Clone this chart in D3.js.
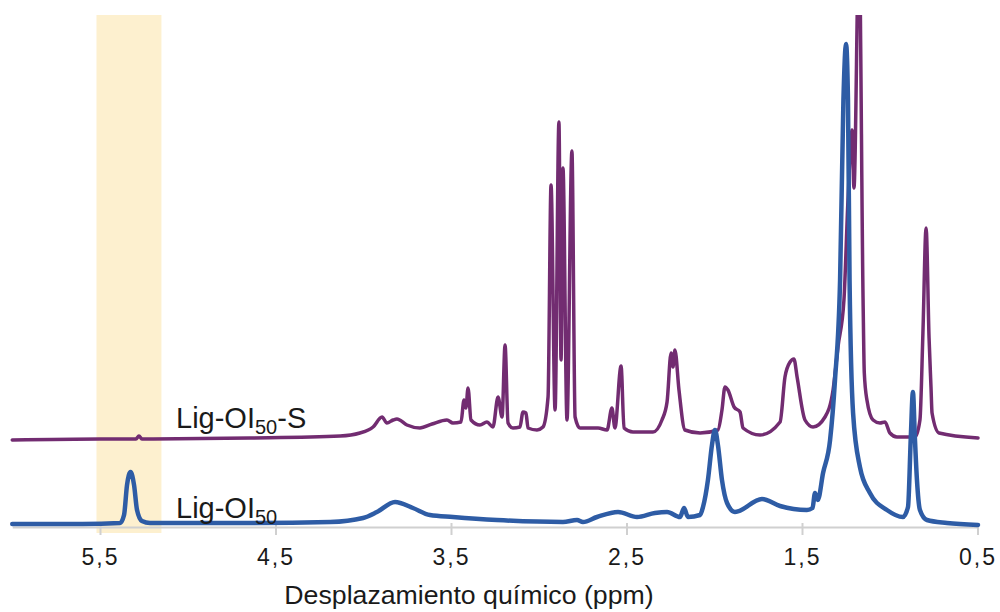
<html>
<head>
	<meta http-equiv="Content-Type" content="text/html; charset=utf-8" />
	<script src="https://cdn.jsdelivr.net/npm/d3@7/dist/d3.min.js" charset="utf-8"></script>
	<style type="text/css">
	body {
	  background-color: #fff;
	  margin: 0;
	}
	.axis path, .axis line {
	    stroke: #d0d0d0;
	    stroke-width: 2px;
	}
	.axis text {
	    font-family: "Liberation Sans", Arial, sans-serif;
	    font-size: 23px;
	    letter-spacing: 2px;
	    fill: #1a1a1a;
	}
	.lbl {
	    font-family: "Liberation Sans", Arial, sans-serif;
	    fill: #1a1a1a;
	}
	</style>
</head>
<body>

	<svg width="1000" height="612" version="1.1" xmlns="http://www.w3.org/2000/svg"></svg>

	<script type="text/javascript">
		// Lig-OI50 (azul)
		var v_PpmA = [6.00, 5.60, 5.386, 5.363, 5.346, 5.326, 5.306, 5.289, 5.261, 5.215, 4.645, 4.189, 4.001, 3.922,
		              3.819, 3.717, 3.620, 3.489, 3.238, 2.862, 2.782, 2.748, 2.668, 2.548, 2.440, 2.338, 2.269, 2.195,
		              2.172, 2.150, 2.081, 2.064, 2.036, 2.013, 1.996, 1.979, 1.956, 1.927, 1.882, 1.728, 1.625, 1.472,
		              1.440, 1.426, 1.410, 1.380, 1.340, 1.312, 1.283, 1.264, 1.249, 1.238, 1.229, 1.209, 1.170, 1.113,
		              1.016, 0.925, 0.896, 0.880, 0.868, 0.857, 0.845, 0.828, 0.788, 0.674, 0.497];
		var v_IntA = [3, 3, 4, 12, 42, 55, 42, 17, 6, 4, 4, 5, 9, 15,
		              25, 19, 12, 10, 7, 5, 7, 5, 10, 15, 10, 14, 15, 10,
		              19, 10, 12, 20, 47, 82, 97, 82, 47, 24, 15, 28, 21, 17,
		              19, 34, 27, 54, 87, 147, 247, 427, 483, 427, 247, 114, 60, 34,
		              17, 10, 20, 90, 135, 90, 47, 17, 7, 4, 2];

		// Lig-OI50-S (morado)
		var v_PpmB = [6.00, 5.50, 5.295, 5.278, 5.261, 4.645, 4.132, 4.019, 3.944, 3.893, 3.865, 3.830, 3.808, 3.751,
		              3.677, 3.608, 3.523, 3.489, 3.443, 3.426, 3.415, 3.403, 3.386, 3.335, 3.295, 3.261, 3.232, 3.209,
		              3.192, 3.175, 3.147, 3.107, 3.090, 3.073, 3.061, 3.010, 2.976, 2.947, 2.930, 2.907, 2.885, 2.873,
		              2.862, 2.839, 2.811, 2.793, 2.765, 2.662, 2.611, 2.583, 2.566, 2.531, 2.514, 2.463, 2.349, 2.298,
		              2.269, 2.246, 2.235, 2.224, 2.201, 2.167, 2.081, 1.979, 1.956, 1.939, 1.922, 1.887, 1.853, 1.836, 1.739,
		              1.625, 1.597, 1.568, 1.546, 1.528, 1.483, 1.437, 1.369, 1.323, 1.295, 1.261, 1.238, 1.215, 1.204,
		              1.175, 1.152, 1.145, 1.130, 1.095, 1.056, 1.027, 0.999, 0.959, 0.856, 0.828, 0.811, 0.793, 0.776,
		              0.765, 0.759, 0.719, 0.497];
		var v_IntB = [87, 88, 88, 91, 88, 89, 91, 94, 100, 110, 104, 107, 108, 102,
		              99, 103, 107, 104, 105, 127, 119, 139, 107, 102, 105, 100, 130, 110,
		              182, 104, 99, 100, 115, 114, 99, 97, 100, 130, 342, 117, 405, 167,
		              359, 107, 376, 110, 99, 99, 97, 119, 99, 161, 99, 95, 95, 107,
		              125, 174, 160, 177, 137, 97, 94, 97, 117, 140, 137, 120, 115, 99, 92,
		              105, 150, 165, 168, 150, 107, 100, 110, 137, 180, 227, 327, 397, 339,
		              587, 227, 154, 127, 107, 104, 105, 94, 90, 90, 107, 194, 299, 189,
		              140, 114, 94, 89];

		var v_TickValues = [5.5, 4.5, 3.5, 2.5, 1.5, 0.5];
		var v_Band       = [5.52, 5.15];

		var v_SVG    = d3.select("svg");
		var v_xScale = d3.scaleLinear().domain([6.0, 0.5]).range([12.25, 977.5]);
		var v_yScale = d3.scaleLinear().domain([0, 512]).range([527, 15]);

		// zona resaltada
		v_SVG.append("rect")
		     .attr("x", v_xScale(v_Band[0]))
		     .attr("y", v_yScale(512))
		     .attr("width", v_xScale(v_Band[1]) - v_xScale(v_Band[0]))
		     .attr("height", v_yScale(-6) - v_yScale(512))
		     .attr("fill", "#fdf0cf");

		// eje x
		v_SVG.append("g")
		     .attr("class", "axis")
		     .attr("transform", "translate(0," + v_yScale(0) + ")")
		     .call(d3.axisBottom(v_xScale)
		             .tickValues(v_TickValues)
		             .tickSize(8)
		             .tickSizeOuter(0)
		             .tickPadding(14)
		             .tickFormat(function(d) { return d3.format(".1f")(d).replace(".", ","); }))
		     .call(function(g) { g.selectAll(".tick line").attr("y1", -4); });

		v_SVG.append("clipPath").attr("id", "clip")
		     .append("rect").attr("x", 0).attr("y", 15).attr("width", 1000).attr("height", 530);

		function f_Line(i_Ppm, i_Int, i_Color, i_Width)
		{
			var v_Line = d3.line()
			               .x(function(d, i) { return v_xScale(i_Ppm[i]); })
			               .y(function(d, i) { return v_yScale(i_Int[i]); })
			               .curve(d3.curveMonotoneX);
			v_SVG.append("path")
			     .attr("clip-path", "url(#clip)")
			     .attr("d", v_Line(i_Int))
			     .attr("fill", "none")
			     .attr("stroke", i_Color)
			     .attr("stroke-width", i_Width)
			     .attr("stroke-linejoin", "round")
			     .attr("stroke-linecap", "round");
		}

		f_Line(v_PpmB, v_IntB, "#722c71", 3.5);
		f_Line(v_PpmA, v_IntA, "#2e5ca5", 4.5);

		// etiquetas de las series
		var v_T1 = v_SVG.append("text").attr("class", "lbl").attr("x", 176).attr("y", 428).attr("font-size", "29px");
		v_T1.append("tspan").text("Lig-OI");
		v_T1.append("tspan").attr("font-size", "20px").attr("dy", 6).text("50");
		v_T1.append("tspan").attr("dy", -6).text("-S");

		var v_T2 = v_SVG.append("text").attr("class", "lbl").attr("x", 176).attr("y", 518).attr("font-size", "29px");
		v_T2.append("tspan").text("Lig-OI");
		v_T2.append("tspan").attr("font-size", "20px").attr("dy", 6).text("50");

		// título eje x
		v_SVG.append("text")
		     .attr("class", "lbl")
		     .attr("x", 469)
		     .attr("y", 604)
		     .attr("text-anchor", "middle")
		     .attr("font-size", "26.7px")
		     .text("Desplazamiento químico (ppm)");
	</script>

</body>
</html>
